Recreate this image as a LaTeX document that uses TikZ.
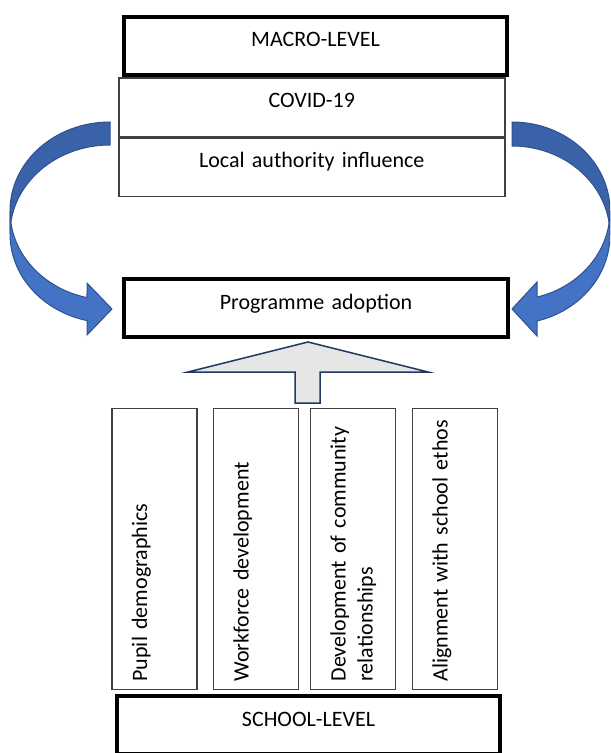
\documentclass[tikz,border=0pt]{standalone}
\usepackage{fontspec}
\setmainfont{Carlito}
\usetikzlibrary{calc}

\definecolor{accblue}{HTML}{4472C4}
\definecolor{accdark}{HTML}{3A62A8}
\definecolor{accline}{HTML}{2F528F}
\definecolor{upgrey}{HTML}{E7E6E6}
\definecolor{upline}{HTML}{203864}

\begin{document}
\begin{tikzpicture}[x=0.5pt,y=-0.5pt,
  every node/.style={font=\fontsize{11}{13.5}\selectfont},
  level/.style={draw=black, line width=2pt, inner sep=0pt, align=center, anchor=north west, text height=15pt, text depth=14pt, text width=#1},
  cell/.style={draw=black!75, line width=0.75pt, inner sep=0pt, align=center, anchor=north west, text height=14.75pt, text depth=14.5pt, text width=#1},
  strip/.style={draw=black!75, line width=0.75pt, rotate=90, inner xsep=4pt, inner ysep=0pt, align=left, text width=132.5pt, text height=17.5pt, text depth=25pt},
  band/.style={draw=accline, line width=0.5pt}]
\clip (0,0) rectangle (610,753);

\node[level=191.5pt] (macro) at (122,15) {MACRO-LEVEL};
\node[cell=193pt] (covid) at (118,77.5) {COVID-19};
\node[cell=193pt] (local) at (118,137.5) {Local authority influence};
\node[level=192pt] (adopt) at (122,277) {Programme adoption};

\node[strip] (pupil) at (154.5,549) {Pupil demographics};
\node[strip] (workforce) at (256,549) {Workforce development};
\node[strip] (community) at (353,549) {Development of community relationships};
\node[strip] (ethos) at (455,549) {Alignment with school ethos};
\node[level=191.5pt] (school) at (115,694) {SCHOOL-LEVEL};

% up arrow
\coordinate (tip) at (308,342);
\filldraw[fill=upgrey, draw=upline, line width=0.75pt] (tip) -- (428,372) -- (320,372) -- (320,403) -- (295,403) -- (295,372) -- (188,372) -- cycle;

% left curved arrow
\filldraw[band, fill=accdark] (110,122) arc[start angle=270, end angle=180, x radius=100, y radius=89] -- (10,234) arc[start angle=180, end angle=270, x radius=100, y radius=89] -- cycle;
\filldraw[band, fill=accblue] (10,211) arc[start angle=180, end angle=103.3, x radius=100, y radius=89] -- (87,283) -- (112,309) -- (87,335) -- (87,320.6) arc[start angle=103.3, end angle=180, x radius=100, y radius=89] -- cycle;

% right curved arrow
\filldraw[band, fill=accdark] (512,122) arc[start angle=270, end angle=360, x radius=98, y radius=89] -- (610,235) arc[start angle=360, end angle=270, x radius=98, y radius=89] -- cycle;
\filldraw[band, fill=accblue] (610,211) arc[start angle=0, end angle=75.2, x radius=98, y radius=89] -- (537,282) -- (512,309) -- (537,336) -- (537,321) arc[start angle=75.2, end angle=0, x radius=98, y radius=89] -- cycle;
\end{tikzpicture}
\end{document}
